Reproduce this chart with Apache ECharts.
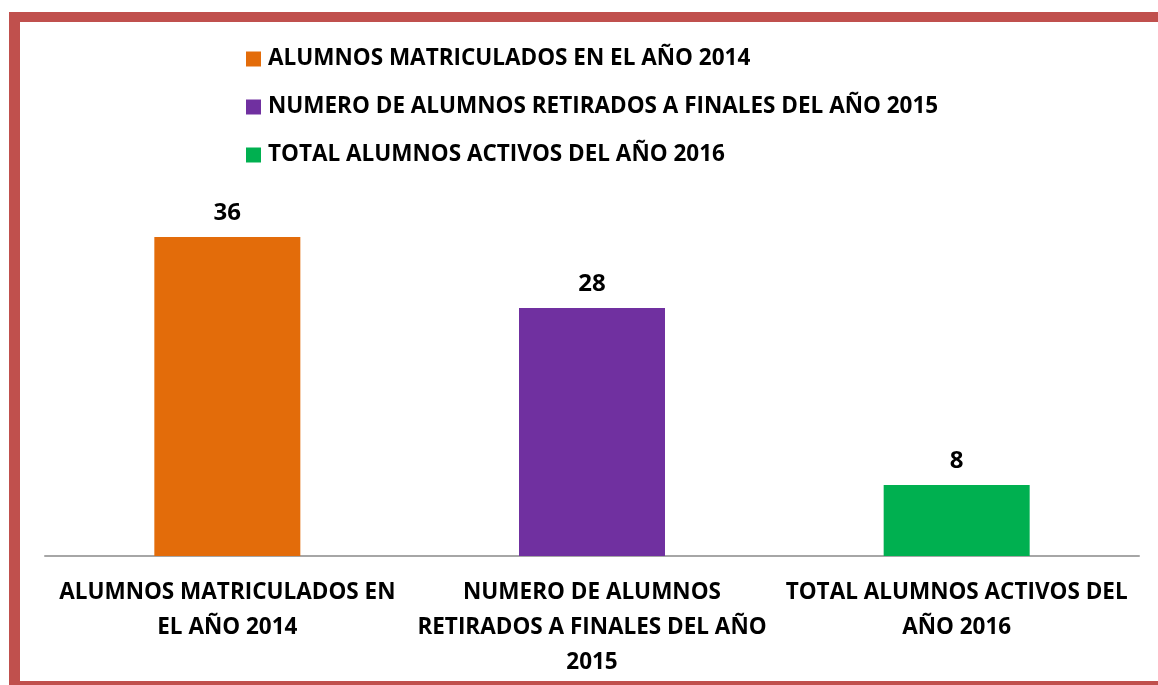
<!DOCTYPE html>
<html><head><meta charset="utf-8">
<script src="https://cdn.jsdelivr.net/npm/echarts@6/dist/echarts.min.js"></script>
<style>html,body{margin:0;padding:0;background:#fff}#c{width:1158px;height:685px}</style>
</head><body><div id="c"></div>
<script>
var categories = ['ALUMNOS MATRICULADOS EN EL AÑO 2014', 'NUMERO DE ALUMNOS RETIRADOS A FINALES DEL AÑO 2015', 'TOTAL ALUMNOS ACTIVOS DEL AÑO 2016'];
var tickLabels = ['ALUMNOS MATRICULADOS EN\nEL AÑO 2014', 'NUMERO DE ALUMNOS\nRETIRADOS A FINALES DEL AÑO\n2015', 'TOTAL ALUMNOS ACTIVOS DEL\nAÑO 2016'];
var values = [36, 28, 8];
var colors = ['#E36C0A', '#7030A0', '#00B050'];

var font = 'Open Sans';
var chart = echarts.init(document.getElementById('c'));
var series = categories.map(function (name, i) {
  var d = categories.map(function (c, j) { return j === i ? values[i] : '-'; });
  return {
    name: name, type: 'bar', data: d, barWidth: 146, barGap: '-100%',
    itemStyle: { color: colors[i] },
    label: { show: true, position: 'top', distance: 12, color: '#000', fontFamily: font, fontWeight: 'bold', fontSize: 24 }
  };
});
chart.setOption({
  animation: false,
  graphic: [
    { type: 'rect', shape: { x: 9, y: 12, width: 1160, height: 10 }, style: { fill: '#C0504D' } },
    { type: 'rect', shape: { x: 9, y: 12, width: 11, height: 680 }, style: { fill: '#C0504D' } },
    { type: 'rect', shape: { x: 9, y: 681, width: 1160, height: 10 }, style: { fill: '#C0504D' } }
  ],
  legend: {
    orient: 'vertical', left: 241, top: 42, itemWidth: 15, itemHeight: 15, itemGap: 24, itemStyle: { borderWidth: 0 },
    icon: 'rect',
    textStyle: { fontFamily: font, fontWeight: 'bold', fontSize: 22.5, color: '#000', lineHeight: 24, padding: [0, 0, 0, 2] },
    data: categories
  },
  grid: { left: 45, right: 19, top: 556 - 354.4, bottom: 685 - 556, containLabel: false },
  xAxis: {
    type: 'category', data: categories,
    axisLine: { lineStyle: { color: '#A6A6A6', width: 2 } },
    axisTick: { show: false },
    axisLabel: {
      interval: 0, margin: 19, color: '#000', fontFamily: font, fontWeight: 'bold', fontSize: 22.5, lineHeight: 35,
      formatter: function (v, i) { return tickLabels[i]; }
    }
  },
  yAxis: { type: 'value', min: 0, max: 40, show: false, splitLine: { show: false } },
  series: series
});
</script></body></html>
